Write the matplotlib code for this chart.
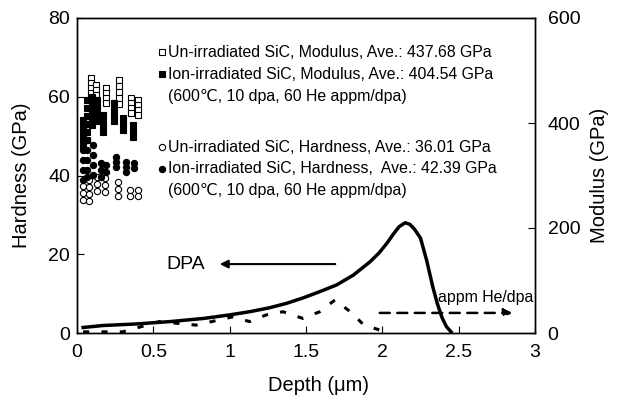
import matplotlib
matplotlib.use('Agg')
import matplotlib.pyplot as plt

plt.rcParams['font.family'] = ['Liberation Sans', 'DejaVu Sans']

# Un-irradiated SiC, modulus (GPa) vs depth (um)
d_mod_un = [0.092]*5 + [0.124]*4 + [0.19]*4 + [0.275]*5 + [0.354]*4 + [0.40]*4
mod_un = [486, 476, 467, 457, 448,
          472, 463, 453, 444,
          467, 457, 448, 438,
          482, 470, 459, 448, 436,
          448, 438, 429, 419,
          444, 434, 425, 415]

# Ion-irradiated SiC, modulus
d_mod_ion = [0.04]*6 + [0.065]*6 + [0.098]*5 + [0.13]*4 + [0.17]*4 + [0.24]*4 + [0.30]*3 + [0.367]*3
mod_ion = [406, 396, 387, 377, 368, 358,
           444, 429, 413, 398, 383, 368,
           450, 436, 423, 410, 396,
           444, 430, 417, 404,
           415, 404, 392, 383,
           438, 427, 415, 404,
           410, 398, 387,
           396, 385, 373]

# Ion-irradiated SiC, hardness
d_hard_ion = [0.04]*4 + [0.065]*5 + [0.105]*4 + [0.157]*3 + [0.19]*2 + [0.255]*3 + [0.32]*3 + [0.373]*2
hard_ion = [46.5, 43.9, 41.4, 38.9,
            49.0, 46.5, 43.9, 41.4, 39.6,
            47.7, 45.2, 42.7, 40.1,
            43.2, 41.4, 39.6,
            42.7, 40.9,
            44.7, 43.4, 42.2,
            43.4, 42.2, 40.9,
            43.2, 41.9]

# Un-irradiated SiC, hardness
d_hard_un = [0.04]*3 + [0.079]*4 + [0.13]*3 + [0.183]*3 + [0.27]*3 + [0.347]*2 + [0.40]*2
hard_un = [37.3, 35.6, 33.8,
           38.9, 37.1, 35.3, 33.5,
           39.6, 37.8, 36.1,
           39.4, 37.6, 35.8,
           38.4, 36.6, 34.8,
           36.3, 34.8,
           36.3, 34.8]

# DPA profile (plotted on hardness scale)
d_dpa = [0.04, 0.17, 0.39, 0.61, 0.83, 1.0, 1.13, 1.26, 1.37, 1.48, 1.59, 1.70,
         1.81, 1.92, 1.98, 2.03, 2.07, 2.11, 2.15, 2.18, 2.21, 2.25, 2.29, 2.33,
         2.36, 2.39, 2.42, 2.45]
dpa = [1.4, 1.9, 2.3, 2.9, 3.7, 4.6, 5.4, 6.4, 7.5, 8.9, 10.5, 12.2,
       14.7, 18.1, 20.4, 22.8, 25.0, 27.0, 28.0, 27.6, 26.4, 24.1, 18.5, 11.8,
       7.5, 4.0, 1.6, 0.3]

# He appm/dpa profile
d_he = [0.04, 0.30, 0.54, 0.78, 1.02, 1.13, 1.24, 1.35, 1.48, 1.59, 1.69, 1.79, 1.88, 1.98]
he = [0.3, 0.3, 2.9, 2.0, 4.1, 2.9, 4.6, 5.4, 3.7, 5.4, 8.4, 5.4, 2.0, 0.8]

legend_labels = ['Un-irradiated SiC, Modulus, Ave.: 437.68 GPa',
                 'Ion-irradiated SiC, Modulus, Ave.: 404.54 GPa',
                 '(600\u2103, 10 dpa, 60 He appm/dpa)',
                 'Un-irradiated SiC, Hardness, Ave.: 36.01 GPa',
                 'Ion-irradiated SiC, Hardness,  Ave.: 42.39 GPa',
                 '(600\u2103, 10 dpa, 60 He appm/dpa)']
legend_markers = ['s', 's', None, 'o', 'o', None]
legend_fill = ['white', 'black', None, 'white', 'black', None]

fig = plt.figure(figsize=(6.19, 4.0), dpi=100)
ax = fig.add_axes([0.1244, 0.1675, 0.7399, 0.7875])
ax2 = ax.twinx()

ms = 4.5
ax.plot(d_dpa, dpa, '-', color='black', lw=2.5)
ax.plot(d_he, he, color='black', lw=2.2, linestyle=(0, (2, 4)))
ax.plot(d_hard_un, hard_un, 'o', ms=ms, mfc='white', mec='black', mew=0.8, ls='none')
ax.plot(d_hard_ion, hard_ion, 'o', ms=ms, mfc='black', mec='black', mew=0.8, ls='none')
ax2.plot(d_mod_un, mod_un, 's', ms=ms, mfc='white', mec='black', mew=0.8, ls='none')
ax2.plot(d_mod_ion, mod_ion, 's', ms=ms, mfc='black', mec='black', mew=0.8, ls='none')

# arrows and labels
ax.annotate('', xy=(0.917, 17.5), xytext=(1.71, 17.5),
            arrowprops=dict(arrowstyle='-|>', color='black', lw=1.5, mutation_scale=12))
ax.text(0.714, 17.3, 'DPA', fontsize=14, ha='center', va='center')
ax.annotate('', xy=(2.87, 5.1), xytext=(1.965, 5.1),
            arrowprops=dict(arrowstyle='-|>', color='black', lw=1.8, ls=(0, (4, 3)),
                            mutation_scale=12))
ax.text(2.365, 9.1, 'appm He/dpa', fontsize=11.4, ha='left', va='center')

# legend built by hand
ys = [0.892, 0.822, 0.752, 0.590, 0.521, 0.451]
for lab, mk, fc, y in zip(legend_labels, legend_markers, legend_fill, ys):
    if mk is not None:
        ax.plot([0.186], [y], mk, ms=5 if mk == 's' else 4.5, mfc=fc, mec='black', mew=0.8,
                transform=ax.transAxes, clip_on=False)
    ax.text(0.198, y, lab, fontsize=11.4, ha='left', va='center', transform=ax.transAxes)

ax.set_xlim(0, 3)
ax.set_ylim(0, 80)
ax2.set_ylim(0, 600)
ax.set_xticks([0, 0.5, 1, 1.5, 2, 2.5, 3])
ax.set_xticklabels(['0', '0.5', '1', '1.5', '2', '2.5', '3'])
ax.set_yticks([0, 20, 40, 60, 80])
ax2.set_yticks([0, 200, 400, 600])

ax.tick_params(axis='x', direction='in', length=5, labelsize=14, pad=8)
ax.tick_params(axis='y', direction='in', length=5, labelsize=14, pad=5)
ax2.tick_params(axis='y', direction='in', length=5, labelsize=14, pad=9)

ax.set_xlabel('Depth (\u03bcm)', fontsize=14.5)
ax.xaxis.set_label_coords(0.528, -0.135)
ax.set_ylabel('Hardness (GPa)', fontsize=14.5)
ax.yaxis.set_label_coords(-0.10, 0.5)
ax2.set_ylabel('Modulus (GPa)', fontsize=14.5, rotation=90)
ax2.yaxis.set_label_coords(1.12, 0.5)

for a in (ax, ax2):
    for s in a.spines.values():
        s.set_linewidth(1.0)

fig.savefig('out.png', dpi=100)
